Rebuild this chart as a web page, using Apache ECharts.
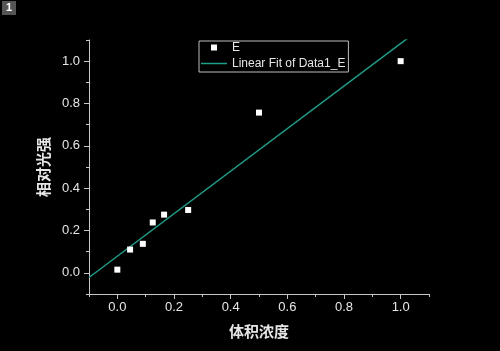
<!DOCTYPE html>
<html><head><meta charset="utf-8">
<script src="https://cdn.jsdelivr.net/npm/echarts@6/dist/echarts.min.js"></script>
<style>html,body{margin:0;padding:0;background:#000;}#c{width:500px;height:351px;}</style>
</head><body><div id="c"></div>
<script>
var xValues = [0, 0.045, 0.09, 0.125, 0.165, 0.25, 0.5, 1.0];
var yValues = [0.015, 0.11, 0.137, 0.238, 0.275, 0.297, 0.757, 1.0];
var fitX = [-0.1, 1.1];
var fitY = [-0.022, 1.184];
var tickLabels = [0, 0.2, 0.4, 0.6, 0.8, 1.0];
var seriesNames = ['E', 'Linear Fit of Data1_E'];
var axisTitles = {x: '体积浓度', y: '相对光强'};

var points = xValues.map(function (x, i) { return [x, yValues[i]]; });
var fitLine = fitX.map(function (x, i) { return [x, fitY[i]]; });

var axisCol = '#c8c8c8';
var labCol = '#e6e6e6';
function baseAxis(isX) {
  return {
    type: 'value', min: -0.1, max: 1.1, interval: 0.1,
    splitLine: {show: false},
    axisLine: {show: true, onZero: false, lineStyle: {color: axisCol, width: 1}},
    axisTick: {show: true, inside: false, length: 3, lineStyle: {color: axisCol}},
    axisLabel: {
      show: true, customValues: tickLabels, color: labCol, fontSize: 13,
      fontFamily: 'Liberation Sans, Arial, sans-serif', margin: isX ? 7 : 9,
      formatter: function (v) { return (Math.round(v * 10) / 10).toFixed(1); }
    }
  };
}
function tickAxis() {
  return {
    type: 'value', min: -0.1, max: 1.1,
    splitLine: {show: false},
    axisLine: {show: false, onZero: false},
    axisTick: {show: true, customValues: tickLabels, length: 5, lineStyle: {color: axisCol}},
    axisLabel: {show: false}
  };
}
var x0 = baseAxis(true);
x0.position = 'bottom';
x0.name = axisTitles.x; x0.nameLocation = 'middle'; x0.nameGap = 30;
x0.nameTextStyle = {color: labCol, fontSize: 15, fontWeight: 'bold', fontFamily: 'Noto Sans CJK SC'};
var y0 = baseAxis(false);
y0.position = 'left';
y0.name = axisTitles.y; y0.nameLocation = 'middle'; y0.nameGap = 36;
y0.nameTextStyle = {color: labCol, fontSize: 15, fontWeight: 'bold', fontFamily: 'Noto Sans CJK SC'};
var x1 = tickAxis(); x1.position = 'bottom'; x1.offset = 0;
var y1 = tickAxis(); y1.position = 'left'; y1.offset = 0;

var chart = echarts.init(document.getElementById('c'), null, {renderer: 'canvas'});
chart.setOption({
  backgroundColor: '#000',
  animation: false,
  grid: {left: 89, right: 71, top: 40, bottom: 57, containLabel: false},
  xAxis: [x0, x1],
  yAxis: [y0, y1],
  legend: {
    orient: 'vertical', left: 199, top: 41,
    borderColor: '#bdbdbd', borderWidth: 1, padding: [0, 3, 2, 2],
    itemWidth: 26, itemHeight: 6, itemGap: 3,
    inactiveColor: '#fff',
    textStyle: {color: labCol, fontSize: 12, fontFamily: 'Liberation Sans, Arial, sans-serif', lineHeight: 13},
    data: [
      {name: seriesNames[0], icon: 'path://M0,0h6v6h-6z', itemStyle: {color: '#fff', opacity: 1}},
      {name: seriesNames[1], icon: 'path://M0,0h26v1.5h-26z', itemStyle: {color: '#1f9e89', opacity: 1}}
    ]
  },
  graphic: [
    {type: 'rect', left: 2, top: 1, shape: {width: 14, height: 14}, style: {fill: '#555'}},
    {type: 'text', left: 6, top: 2, style: {text: '1', fill: '#fff', fontSize: 11, fontWeight: 'bold', fontFamily: 'Liberation Sans, Arial'}}
  ],
  series: [
    {
      name: seriesNames[1], type: 'line', data: fitLine, xAxisIndex: 0, yAxisIndex: 0,
      showSymbol: false, symbol: 'none', clip: true,
      lineStyle: {color: '#1f9e89', width: 1.5}, itemStyle: {color: '#1f9e89'}, z: 2
    },
    {
      name: seriesNames[0], type: 'scatter', data: points, xAxisIndex: 0, yAxisIndex: 0,
      symbol: 'rect', symbolSize: 6, itemStyle: {color: '#fff', opacity: 1}, z: 3
    }
  ]
});
</script></body></html>
